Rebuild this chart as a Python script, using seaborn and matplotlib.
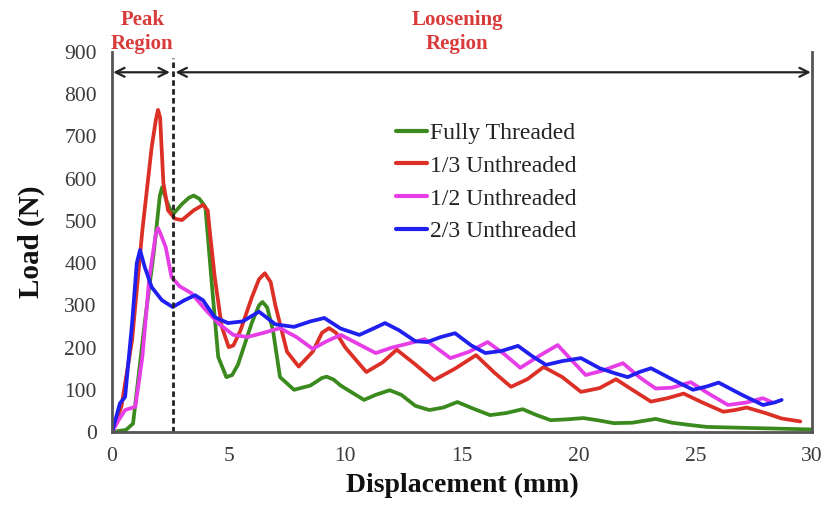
import matplotlib
matplotlib.use("Agg")
import matplotlib.pyplot as plt
import seaborn as sns
import pandas as pd

# ---- data ----
series_names = ["Fully Threaded", "1/3 Unthreaded", "1/2 Unthreaded", "2/3 Unthreaded"]
series_colors = ["#3a8a1e", "#dc2f26", "#e63de6", "#1f1fef"]

green_x = [0, 0.6, 0.9, 1.4, 1.8, 2.05, 2.15, 2.35, 2.6, 3.0, 3.3, 3.5, 3.75, 4.0, 4.3, 4.55,
           4.9, 5.15, 5.4, 6.0, 6.3, 6.45, 6.65, 6.9, 7.2, 7.8, 8.5, 9.0, 9.2, 9.5, 9.8, 10.8,
           11.3, 11.9, 12.4, 13.0, 13.6, 14.2, 14.8, 15.5, 16.2, 16.9, 17.6, 18.2, 18.8, 19.5,
           20.2, 20.8, 21.5, 22.3, 23.3, 24.0, 24.7, 25.5, 27.0, 28.5, 30.0]
green_y = [0, 5, 20, 258, 430, 560, 580, 545, 515, 540, 555, 560, 552, 533, 336, 178,
           130, 135, 160, 260, 300, 308, 295, 240, 130, 100, 110, 128, 131, 124, 110, 76,
           88, 99, 88, 62, 52, 58, 71, 55, 40, 45, 54, 40, 28, 30,
           33, 28, 21, 22, 31, 22, 17, 12, 10, 8, 6]

red_x = [0, 0.4, 0.86, 1.3, 1.7, 1.88, 1.97, 2.06, 2.2, 2.4, 2.7, 3.0, 3.5, 3.9, 4.1, 4.2,
         4.4, 4.7, 5.0, 5.2, 5.5, 6.0, 6.3, 6.55, 6.8, 7.0, 7.5, 8.0, 8.6, 9.0, 9.3, 9.6,
         10.0, 10.9, 11.6, 12.2, 13.0, 13.8, 14.7, 15.6, 16.4, 17.1, 17.8, 18.5, 19.3, 20.1,
         20.9, 21.6, 22.3, 23.1, 23.8, 24.5, 25.3, 26.2, 26.7, 27.2, 28.0, 28.7, 29.5]
red_y = [0, 60, 218, 478, 675, 740, 763, 745, 590, 525, 505, 502, 525, 538, 525, 470,
         368, 250, 201, 205, 240, 320, 362, 376, 355, 300, 190, 155, 190, 235, 246, 235,
         200, 142, 165, 195, 160, 123, 150, 182, 140, 107, 125, 154, 130, 95,
         104, 125, 100, 72, 80, 91, 70, 48, 52, 58, 45, 32, 25]

mag_x = [0, 0.3, 0.56, 1.0, 1.3, 1.6, 1.88, 1.97, 2.06, 2.3, 2.55, 2.9, 3.4, 4.0, 4.6, 5.2,
         5.8, 6.5, 7.2, 7.9, 8.6, 9.2, 9.8, 10.5, 11.3, 12.0, 12.8, 13.4, 14.5, 15.3, 16.1,
         16.8, 17.5, 18.3, 19.1, 19.7, 20.3, 21.0, 21.9, 22.6, 23.3, 24.0, 24.8, 25.6, 26.4,
         27.2, 27.9, 28.3]
mag_y = [0, 30, 52, 60, 178, 367, 470, 483, 472, 438, 367, 345, 329, 290, 255, 230,
         225, 235, 246, 225, 197, 215, 230, 210, 187, 200, 211, 220, 175, 190, 213,
         185, 152, 180, 206, 170, 135, 145, 163, 130, 103, 105, 118, 90, 64,
         70, 80, 70]

blue_x = [0, 0.34, 0.56, 0.86, 1.06, 1.2, 1.4, 1.7, 2.14, 2.6, 3.1, 3.56, 3.9, 4.4, 4.97,
          5.6, 6.3, 7.0, 7.8, 8.5, 9.1, 9.8, 10.6, 11.2, 11.7, 12.3, 13.0, 13.5, 14.1, 14.7,
          15.4, 16.0, 16.7, 17.4, 18.0, 18.6, 19.3, 20.1, 20.9, 21.5, 22.1, 22.6, 23.1, 24.0,
          24.9, 25.5, 26.0, 27.0, 27.9, 28.4, 28.7]
blue_y = [0, 68, 83, 258, 400, 431, 391, 343, 312, 296, 312, 324, 312, 272, 258,
          262, 285, 255, 249, 262, 270, 245, 230, 245, 258, 241, 215, 213, 225, 234,
          205, 187, 192, 204, 180, 159, 168, 175, 151, 140, 130, 142, 151, 125,
          100, 108, 117, 88, 64, 70, 76]

x_ticks = [0, 5, 10, 15, 20, 25, 30]
y_ticks = [0, 100, 200, 300, 400, 500, 600, 700, 800, 900]
split_x = 2.6

frames = []
for name, xs, ys in zip(series_names,
                        [green_x, red_x, mag_x, blue_x],
                        [green_y, red_y, mag_y, blue_y]):
    frames.append(pd.DataFrame({"Displacement": xs, "Load": ys, "Series": name}))
df = pd.concat(frames, ignore_index=True)

sns.set_style("white")
plt.rcParams["font.family"] = ["Liberation Serif", "DejaVu Serif"]
plt.rcParams["lines.solid_joinstyle"] = "round"
plt.rcParams["lines.solid_capstyle"] = "round"

fig = plt.figure(figsize=(8.22, 5.08), dpi=100)
ax = fig.add_axes([0.1363, 0.1496, 0.8515, 0.748])

sns.lineplot(data=df, x="Displacement", y="Load", hue="Series", hue_order=series_names,
             palette=series_colors, estimator=None, sort=False, linewidth=2.7, ax=ax)

ax.set_xlim(0, 30)
ax.set_ylim(0, 900)
ax.set_xticks(x_ticks)
ax.set_yticks(y_ticks)
ax.tick_params(axis="both", direction="out", length=4, width=1.2, colors="#888888",
               labelsize=15.5, labelcolor="#3a3a3a", pad=7)
ax.tick_params(axis="x", pad=7)

for side in ["left", "bottom", "right"]:
    ax.spines[side].set_color("#555555")
    ax.spines[side].set_linewidth(2.0)
ax.spines["top"].set_visible(False)

ax.set_xlabel("Displacement (mm)", fontsize=20, fontweight="bold", color="#111111", labelpad=5)
ax.set_ylabel("Load (N)", fontsize=21, fontweight="bold", color="#111111", labelpad=14)

# dashed split line
ax.plot([split_x, split_x], [0, 885], color="#222222", linestyle=(0, (2.0, 1.2)),
        linewidth=2.0, clip_on=False)

# region arrows
arrow_y = 852
ax.annotate("", xy=(0.05, arrow_y), xytext=(split_x - 0.12, arrow_y),
            arrowprops=dict(arrowstyle="<->", color="#222222", lw=1.6,
                            mutation_scale=16, shrinkA=0, shrinkB=0), annotation_clip=False)
ax.annotate("", xy=(split_x + 0.12, arrow_y), xytext=(29.95, arrow_y),
            arrowprops=dict(arrowstyle="<->", color="#222222", lw=1.6,
                            mutation_scale=16, shrinkA=0, shrinkB=0), annotation_clip=False)

ax.text(1.3, 948, "Peak\nRegion", color="#d93a3a", fontsize=15, fontweight="bold",
        ha="center", va="center", linespacing=1.3, clip_on=False)
ax.text(14.8, 948, "Loosening\nRegion", color="#d93a3a", fontsize=15, fontweight="bold",
        ha="center", va="center", linespacing=1.3, clip_on=False)

leg = ax.legend(loc="upper left", bbox_to_anchor=(0.392, 0.84), frameon=False,
                fontsize=17, handlelength=1.3, handletextpad=0.15, labelspacing=0.48,
                borderaxespad=0)
for t in leg.get_texts():
    t.set_color("#222222")
for h in leg.get_lines():
    h.set_linewidth(3)

fig.savefig("out.png", dpi=100)
